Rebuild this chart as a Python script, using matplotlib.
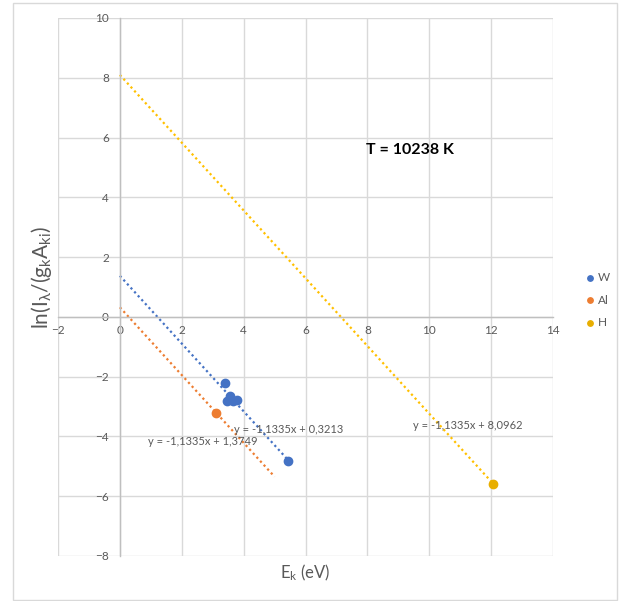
import numpy as np
import matplotlib.pyplot as plt

plt.rcParams['font.family'] = ['Lato', 'DejaVu Sans']
plt.rcParams['mathtext.default'] = 'regular'

# data
w_x = [3.40, 3.45, 3.57, 3.66, 3.80, 5.42]
w_y = [-2.21, -2.80, -2.66, -2.82, -2.78, -4.82]
al_x = [3.10]
al_y = [-3.22]
h_x = [12.05]
h_y = [-5.60]

slope = -1.1335
intercepts = {'W': 1.3749, 'Al': 0.3213, 'H': 8.0962}
trend_ends = {'W': 5.5, 'Al': 5.0, 'H': 12.05}
trend_labels = ['y = -1,1335x + 0,3213', 'y = -1,1335x + 1,3749', 'y = -1,1335x + 8,0962']

colors = {'W': '#4472C4', 'Al': '#ED7D31', 'H': '#FFC000'}
marker_colors = {'W': '#4472C4', 'Al': '#ED7D31', 'H': '#E8AE00'}
grey = '#595959'
grid_c = '#D9D9D9'

fig = plt.figure(figsize=(6.21, 6.01), dpi=100)
ax = fig.add_axes([58 / 621, 1 - 556 / 601, (553 - 58) / 621, (556 - 18) / 601])

# trendlines
for name in ['W', 'Al', 'H']:
    xs = np.linspace(0, trend_ends[name], 50)
    ax.plot(xs, slope * xs + intercepts[name], linestyle=(0, (1, 1.4)),
            lw=1.6, color=colors[name], zorder=2)

# points
ax.scatter(w_x, w_y, s=36, color=marker_colors['W'], label='W', zorder=3)
ax.scatter(al_x, al_y, s=36, color=marker_colors['Al'], label='Al', zorder=3)
ax.scatter(h_x, h_y, s=36, color=marker_colors['H'], label='H', zorder=3)

ax.set_xlim(-2, 14)
ax.set_ylim(-8, 10)
ax.set_xticks(np.arange(-2, 15, 2))
ax.set_yticks(np.arange(-8, 11, 2))
ax.grid(True, color=grid_c, lw=1)
ax.set_axisbelow(True)

for s in ['top', 'right']:
    ax.spines[s].set_visible(False)
ax.spines['left'].set_position('zero')
ax.spines['bottom'].set_position('zero')
for s in ['left', 'bottom']:
    ax.spines[s].set_color('#BFBFBF')
    ax.spines[s].set_linewidth(1)
ax.tick_params(axis='both', length=0, labelsize=8.5, labelcolor=grey)
ax.tick_params(axis='y', pad=8)
ax.tick_params(axis='x', pad=6)

# equation labels
ax.text(3.68, -3.78, trend_labels[0], fontsize=8, color=grey, va='center')
ax.text(0.90, -4.18, trend_labels[1], fontsize=8, color=grey, va='center')
ax.text(9.48, -3.65, trend_labels[2], fontsize=8, color=grey, va='center')

ax.text(9.39, 5.58, 'T = 10238 K', fontsize=11.5, fontweight='bold',
        ha='center', va='center', color='black')

fig.text(305 / 621, 1 - 573 / 601, 'E$_k$ (eV)', fontsize=12, color=grey,
         ha='center', va='center')
fig.text(42 / 621, 1 - 277 / 601, 'ln(I$_λ$/(g$_k$A$_{ki}$)', fontsize=15,
         color=grey, ha='center', va='center', rotation=90)

fig.legend(loc='center left', bbox_to_anchor=(572 / 621, 1 - 300 / 601),
           frameon=False, fontsize=8.5, labelcolor=grey, handletextpad=0.1,
           markerscale=0.65, labelspacing=1.0, handlelength=1.2)

# outer chart border
fig.patches.append(plt.Rectangle((13 / 621, 1 - 600 / 601), (617 - 13) / 621,
                                 (600 - 3) / 601, transform=fig.transFigure,
                                 fill=False, edgecolor='#D9D9D9', lw=1))

fig.savefig('out.png', dpi=100)
